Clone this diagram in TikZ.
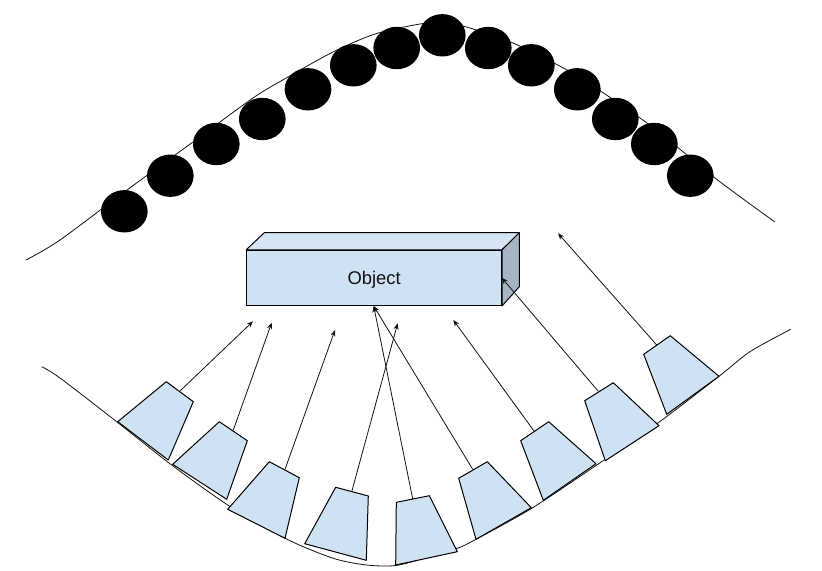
\documentclass[tikz,border=0pt]{standalone}
\usepackage{fontspec}
\setmainfont{Liberation Sans}
\usetikzlibrary{arrows.meta, shapes.geometric}
\definecolor{cfront}{HTML}{CFE2F3}
\definecolor{ctop}{HTML}{D5E5F5}
\definecolor{cside}{HTML}{A6B5C4}
\definecolor{cink}{HTML}{111111}

\begin{document}
\begin{tikzpicture}[
  x=0.75pt, y=-0.75pt,
  dot/.style={ellipse, fill=black, inner sep=0pt, minimum width=35pt, minimum height=31.8pt},
  front/.style={draw=black, fill=cfront, line width=0.75pt, text=cink, inner sep=0pt,
                text height=13.6pt, text depth=2.9pt,
                minimum width=191.2pt, minimum height=41.3pt, font=\fontsize{13.8}{16}\selectfont},
  shell/.style={draw=black, line width=0.75pt, line join=round},
  cam/.style={draw=black, fill=cfront, line width=0.75pt, line join=round},
  rail/.style={draw=cink, line width=0.6pt},
  flow/.style={-{Stealth[length=4.8pt, width=3.8pt]}, line width=0.6pt, draw=cink}
]
\useasboundingbox (0,0) rectangle (822,571);

% rails
\draw[rail] plot[smooth, tension=0.5] coordinates {(26,260) (60,240) (127,190) (193,142) (253,98)
  (288,77) (333,52) (375,34) (420,24) (440,23) (463,26) (513,43) (567,70) (602,92) (647,123)
  (687,155) (715,178) (750,204) (775,222)};
\draw[rail] plot[smooth, tension=0.5] coordinates {(41.7,366.7) (60,378) (116.7,421.7) (171.7,465)
  (229.3,506) (285,538.3) (333.3,558.3) (366.7,565) (395.7,565.5) (425,558) (457.3,548.3) (476,539.3)
  (531.7,508.3) (596.7,465) (658.3,422.7) (719,376.3) (750,351.7) (790.7,329.3)};

% beads
\foreach \i/\x/\y in {1/124.3/211.3, 2/170.3/175.7, 3/216.3/144, 4/262.3/119, 5/308/89.3,
  6/353.3/65.3, 7/396.7/48, 8/442.3/35.3, 9/488.3/48, 10/531.3/65.3, 11/577.3/89.3,
  12/615.3/119, 13/654.3/144, 14/690.3/175.7}
  \node[dot] (d\i) at (\x,\y) {};

% object
\node[front] (object) at (374.2,277.8) {Object};
\draw[shell, fill=ctop] (object.north west) -- (264.3,232.7) -- (519.3,232.7) -- (object.north east) -- cycle;
\draw[shell, fill=cside] (object.north east) -- (519.3,232.7) -- (519.3,286.7) -- (object.south east) -- cycle;

% arrow ends
\coordinate (e1) at (253,321.3);
\coordinate (e2) at (271.7,322.7);
\coordinate (e3) at (335,330);
\coordinate (e4) at (397.7,323.3);
\coordinate (e5) at (373.7,306);
\coordinate (e7) at (453.3,320);
\coordinate (e8) at (501.7,277.7);
\coordinate (e9) at (558,233.3);

% arrow starts
\coordinate (s1) at (180.3,390.7);
\coordinate (s2) at (233.3,430);
\coordinate (s3) at (285,469.3);
\coordinate (s4) at (351.7,491.7);
\coordinate (s5) at (412.7,499);
\coordinate (s6) at (472.7,469.3);
\coordinate (s7) at (534,431);
\coordinate (s8) at (598,391);
\coordinate (s9) at (656.7,345);

\draw[flow] (s1) -- (e1); \draw[flow] (s2) -- (e2); \draw[flow] (s3) -- (e3);
\draw[flow] (s4) -- (e4); \draw[flow] (s5) -- (e5); \draw[flow] (s6) -- (e5);
\draw[flow] (s7) -- (e7); \draw[flow] (s8) -- (e8); \draw[flow] (s9) -- (e9);

% cameras
\draw[cam] (117.7,421.7) -- (166.3,381.7) -- (193.3,401.7) -- (168.3,460) -- cycle;
\draw[cam] (172.7,464.3) -- (219.3,421.7) -- (247.3,440.7) -- (226.7,499.3) -- cycle;
\draw[cam] (227.7,509.3) -- (269.3,461.7) -- (299.3,477.7) -- (285,538.3) -- cycle;
\draw[cam] (304.7,543.7) -- (335.7,487.3) -- (368.3,496) -- (366.3,560.3) -- cycle;
\draw[cam] (396.3,502.3) -- (429.3,495.7) -- (457.3,551.7) -- (395.7,565) -- cycle;
\draw[cam] (458.7,478.3) -- (487.3,461.7) -- (531.3,507.7) -- (476,539.3) -- cycle;
\draw[cam] (520.7,440.7) -- (548.7,421.7) -- (596,463.7) -- (543.3,500.3) -- cycle;
\draw[cam] (584.7,400.7) -- (613.3,382.7) -- (659,425.7) -- (605.3,460.7) -- cycle;
\draw[cam] (643.7,354.3) -- (670.3,335.7) -- (719,376.3) -- (666.7,414.3) -- cycle;
\end{tikzpicture}
\end{document}
